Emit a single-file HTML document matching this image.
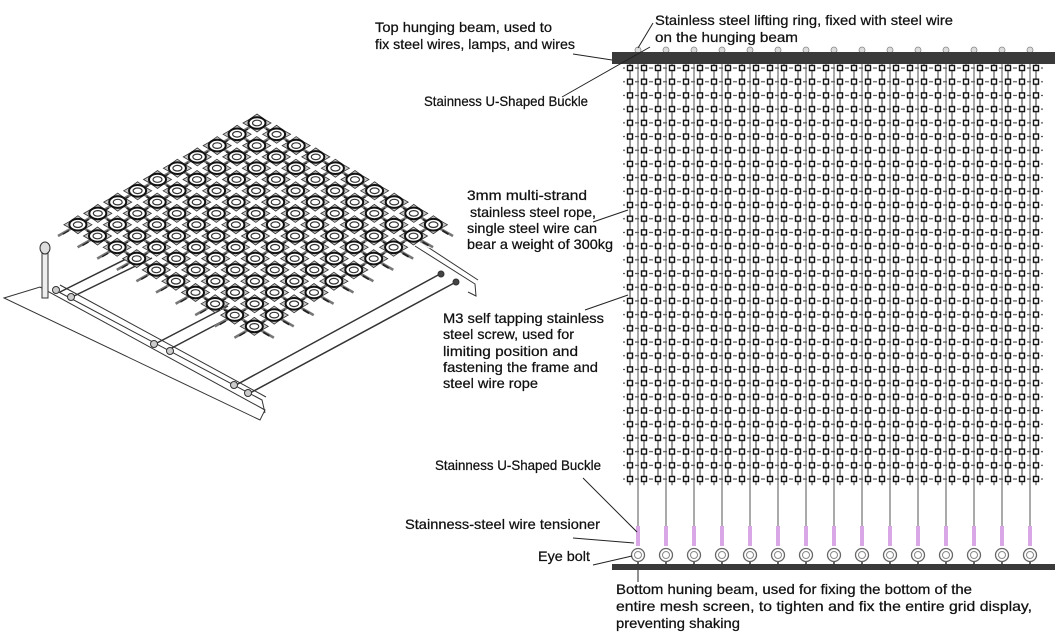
<!DOCTYPE html>
<html><head><meta charset="utf-8"><style>
html,body{margin:0;padding:0;background:#fff;}
svg{display:block;}
text{font-family:"Liberation Sans",sans-serif;font-size:14px;fill:#111;stroke:#111;stroke-width:0.25;}
</style></head><body>
<svg width="1060" height="640" viewBox="0 0 1060 640" xmlns="http://www.w3.org/2000/svg" xmlns:xlink="http://www.w3.org/1999/xlink">
<defs>
<pattern id="nodes" x="623" y="61.2" width="14" height="13.7" patternUnits="userSpaceOnUse">
  <line x1="0" y1="6.85" x2="14" y2="6.85" stroke="#555" stroke-width="1.3" stroke-dasharray="2 2"/>
  <line x1="7" y1="0" x2="7" y2="13.7" stroke="#999" stroke-width="2"/>
  <rect x="4.5" y="4.3" width="5" height="5" fill="#fff" stroke="#111" stroke-width="1.4"/>
</pattern>
<g id="ring">
  <line x1="0" y1="0" x2="19.6" y2="11.3" stroke="#777" stroke-width="2.6"/>
  <line x1="0" y1="0" x2="-19.9" y2="11.3" stroke="#777" stroke-width="2.6"/>
  <line x1="2" y1="4" x2="16" y2="12" stroke="#fff" stroke-width="0.8"/>
  <path d="M-14,0 L-7,-4 L0,-9 L7,-4 L14,0 L7,4 L0,9 L-7,4Z" fill="#c8c8c8" stroke="#333" stroke-width="0.8"/>
  <ellipse cx="0" cy="0" rx="8.5" ry="5.8" fill="#fff" stroke="#111" stroke-width="2"/>
  <ellipse cx="0" cy="0" rx="4.5" ry="2.8" fill="#fff" stroke="#333" stroke-width="1.2"/>
  <line x1="9" y1="6" x2="15" y2="9.5" stroke="#222" stroke-width="1.8"/>
  <line x1="-9" y1="6" x2="-15" y2="9.5" stroke="#222" stroke-width="1.4"/>
</g>
<g id="row">
  <use href="#ring" xlink:href="#ring" x="257" y="123"/>
  <use href="#ring" xlink:href="#ring" x="276.6" y="134.3"/>
  <use href="#ring" xlink:href="#ring" x="296.2" y="145.6"/>
  <use href="#ring" xlink:href="#ring" x="315.8" y="156.9"/>
  <use href="#ring" xlink:href="#ring" x="335.4" y="168.2"/>
  <use href="#ring" xlink:href="#ring" x="355" y="179.5"/>
  <use href="#ring" xlink:href="#ring" x="374.6" y="190.8"/>
  <use href="#ring" xlink:href="#ring" x="394.2" y="202.1"/>
  <use href="#ring" xlink:href="#ring" x="413.8" y="213.4"/>
  <use href="#ring" xlink:href="#ring" x="433.4" y="224.7"/>
</g>
<g id="wire">
  <line x1="0" y1="58" x2="0" y2="545" stroke="#555" stroke-width="1"/>
  <circle cx="0" cy="50" r="3" fill="#ddd" stroke="#888" stroke-width="0.8"/>
  <rect x="-2" y="526" width="4" height="20" fill="#d9a6e6"/>
  <circle cx="0" cy="555" r="6.5" fill="#fff" stroke="#666" stroke-width="1.3"/>
  <circle cx="0" cy="555" r="3.5" fill="#fff" stroke="#888" stroke-width="1"/>
  <line x1="0" y1="561" x2="0" y2="565" stroke="#666" stroke-width="2"/>
</g>
</defs>

<g stroke="#333" fill="none" stroke-width="1">
  <polygon points="4,298 40,287 265,410 260,420" fill="#fff"/>
  <polyline points="55,290 262,400 265,413"/>
  <polyline points="60,285 266,397"/>
  <polyline points="415,246 475,284 476,296 468,292"/>
  <polyline points="420,242 478,280"/>
  <line x1="60" y1="292" x2="140" y2="252" stroke-width="1.5"/>
  <line x1="72" y1="297" x2="152" y2="258" stroke-width="1.5"/>
  <line x1="155" y1="344" x2="228" y2="306" stroke-width="1.5"/>
  <line x1="168" y1="350" x2="240" y2="312" stroke-width="1.5"/>
  <line x1="236" y1="385" x2="440" y2="274" stroke-width="1.5"/>
  <line x1="250" y1="393" x2="456" y2="282" stroke-width="1.5"/>
  <rect x="42" y="250" width="6" height="48" fill="#eee"/>
  <ellipse cx="45" cy="248" rx="5" ry="6" fill="#ddd"/>
  <circle cx="56" cy="290" r="3.5" fill="#ccc"/><circle cx="71" cy="297" r="3.5" fill="#ccc"/>
  <circle cx="154" cy="344" r="3.5" fill="#ccc"/><circle cx="170" cy="351" r="3.5" fill="#ccc"/>
  <circle cx="234" cy="385" r="3.5" fill="#ccc"/><circle cx="248" cy="393" r="3.5" fill="#ccc"/>
  <circle cx="441" cy="274" r="3" fill="#444"/><circle cx="456" cy="282" r="3" fill="#444"/>
</g>
<g>
  <use href="#row" xlink:href="#row" transform="translate(0,0)"/>
  <use href="#row" xlink:href="#row" transform="translate(-19.9,11.3)"/>
  <use href="#row" xlink:href="#row" transform="translate(-39.8,22.6)"/>
  <use href="#row" xlink:href="#row" transform="translate(-59.7,33.9)"/>
  <use href="#row" xlink:href="#row" transform="translate(-79.6,45.2)"/>
  <use href="#row" xlink:href="#row" transform="translate(-99.5,56.5)"/>
  <use href="#row" xlink:href="#row" transform="translate(-119.4,67.8)"/>
  <use href="#row" xlink:href="#row" transform="translate(-139.3,79.1)"/>
  <use href="#row" xlink:href="#row" transform="translate(-159.2,90.4)"/>
  <use href="#row" xlink:href="#row" transform="translate(-179.1,101.7)"/>
</g>

<rect x="623" y="61.2" width="420" height="424" fill="url(#nodes)"/>
<g>
  <use href="#wire" xlink:href="#wire" x="638"/>
  <use href="#wire" xlink:href="#wire" x="666"/>
  <use href="#wire" xlink:href="#wire" x="694"/>
  <use href="#wire" xlink:href="#wire" x="722"/>
  <use href="#wire" xlink:href="#wire" x="750"/>
  <use href="#wire" xlink:href="#wire" x="778"/>
  <use href="#wire" xlink:href="#wire" x="806"/>
  <use href="#wire" xlink:href="#wire" x="834"/>
  <use href="#wire" xlink:href="#wire" x="862"/>
  <use href="#wire" xlink:href="#wire" x="890"/>
  <use href="#wire" xlink:href="#wire" x="918"/>
  <use href="#wire" xlink:href="#wire" x="946"/>
  <use href="#wire" xlink:href="#wire" x="974"/>
  <use href="#wire" xlink:href="#wire" x="1002"/>
  <use href="#wire" xlink:href="#wire" x="1030"/>
</g>
<rect x="612" y="52" width="443" height="12" fill="#3a3a3a"/>
<rect x="612" y="564" width="443" height="6" fill="#3a3a3a"/>

<g stroke="#222" stroke-width="1" fill="none">
  <line x1="573" y1="54" x2="612" y2="60"/>
  <line x1="562" y1="97" x2="650" y2="47"/>
  <line x1="653" y1="23" x2="638" y2="48"/>
  <line x1="593" y1="222" x2="628" y2="210"/>
  <line x1="585" y1="310" x2="628" y2="295"/>
  <line x1="583" y1="478" x2="637" y2="532"/>
  <line x1="573" y1="538" x2="634" y2="543"/>
  <line x1="593" y1="565" x2="632" y2="556"/>
  <line x1="638" y1="570" x2="638" y2="582"/>
</g>

<text x="375" y="32" textLength="177" lengthAdjust="spacingAndGlyphs">Top hunging beam, used to</text>
<text x="375" y="49" textLength="200" lengthAdjust="spacingAndGlyphs">fix steel wires, lamps, and wires</text>
<text x="655" y="25" textLength="298" lengthAdjust="spacingAndGlyphs">Stainless steel lifting ring, fixed with steel wire</text>
<text x="655" y="42" textLength="143" lengthAdjust="spacingAndGlyphs">on the  hunging beam</text>
<text x="424" y="106" font-size="15.5" textLength="164" lengthAdjust="spacingAndGlyphs">Stainness U-Shaped Buckle</text>
<text x="467" y="200" textLength="120" lengthAdjust="spacingAndGlyphs">3mm multi-strand</text>
<text x="470" y="217" textLength="126" lengthAdjust="spacingAndGlyphs">stainless steel rope,</text>
<text x="467" y="233" textLength="130" lengthAdjust="spacingAndGlyphs">single steel wire can</text>
<text x="467" y="249" textLength="146" lengthAdjust="spacingAndGlyphs">bear a weight of 300kg</text>
<text x="443" y="323" textLength="161" lengthAdjust="spacingAndGlyphs">M3 self tapping stainless</text>
<text x="443" y="339" textLength="131" lengthAdjust="spacingAndGlyphs">steel screw, used for</text>
<text x="443" y="356" textLength="135" lengthAdjust="spacingAndGlyphs">limiting position and</text>
<text x="443" y="372" textLength="155" lengthAdjust="spacingAndGlyphs">fastening the frame and</text>
<text x="443" y="388" textLength="95" lengthAdjust="spacingAndGlyphs">steel wire rope</text>
<text x="435" y="470" font-size="15.5" textLength="166" lengthAdjust="spacingAndGlyphs">Stainness U-Shaped Buckle</text>
<text x="405" y="529" textLength="195" lengthAdjust="spacingAndGlyphs">Stainness-steel wire tensioner</text>
<text x="538" y="561" textLength="52" lengthAdjust="spacingAndGlyphs">Eye bolt</text>
<text x="616" y="594" textLength="356" lengthAdjust="spacingAndGlyphs">Bottom huning beam, used for fixing the bottom of the</text>
<text x="616" y="611" textLength="416" lengthAdjust="spacingAndGlyphs">entire mesh screen, to tighten and fix the entire grid display,</text>
<text x="616" y="628" textLength="124" lengthAdjust="spacingAndGlyphs">preventing shaking</text>
</svg>
</body></html>
